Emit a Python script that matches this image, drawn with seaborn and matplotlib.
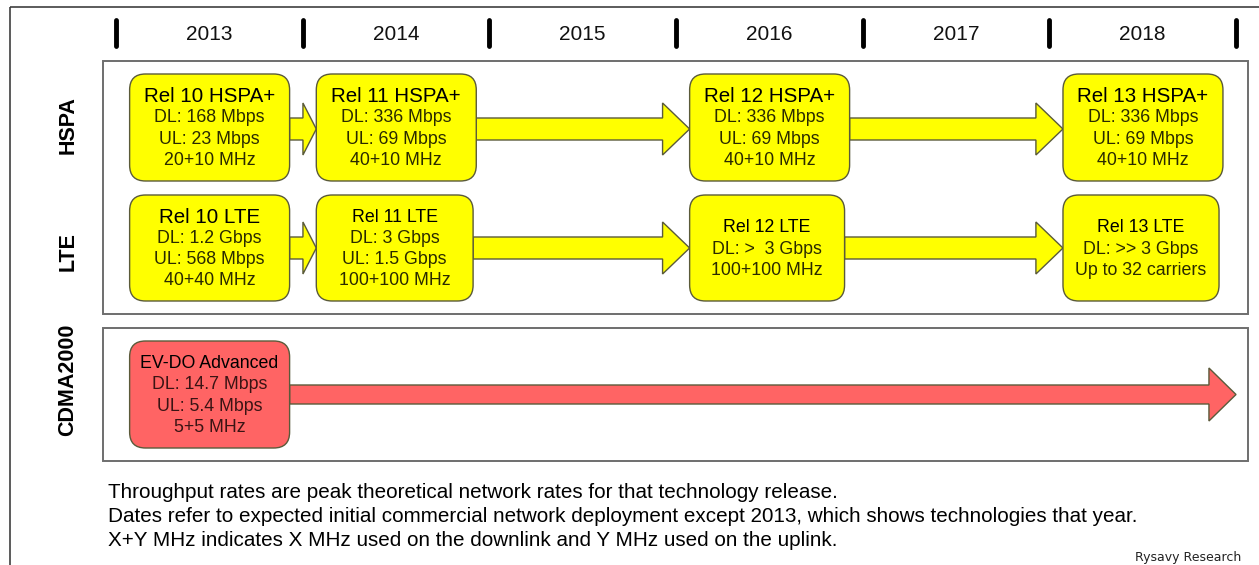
import matplotlib
matplotlib.use("Agg")
import matplotlib.pyplot as plt
import seaborn as sns
from matplotlib.patches import FancyBboxPatch, Rectangle

# --- DATA ---
years = [2013, 2014, 2015, 2016, 2017, 2018]
rows = ["HSPA", "LTE", "CDMA2000"]

hspa_years = [2013, 2014, 2016, 2018]
hspa_titles = ["Rel 10 HSPA+", "Rel 11 HSPA+", "Rel 12 HSPA+", "Rel 13 HSPA+"]
hspa_dl = ["DL: 168 Mbps", "DL: 336 Mbps", "DL: 336 Mbps", "DL: 336 Mbps"]
hspa_ul = ["UL: 23 Mbps", "UL: 69 Mbps", "UL: 69 Mbps", "UL: 69 Mbps"]
hspa_bw = ["20+10 MHz", "40+10 MHz", "40+10 MHz", "40+10 MHz"]

lte_years = [2013, 2014, 2016, 2018]
lte_titles = ["Rel 10 LTE", "Rel 11 LTE", "Rel 12 LTE", "Rel 13 LTE"]
lte_lines = [
    ["DL: 1.2 Gbps", "UL: 568 Mbps", "40+40 MHz"],
    ["DL: 3 Gbps", "UL: 1.5 Gbps", "100+100 MHz"],
    ["DL: >  3 Gbps", "100+100 MHz"],
    ["DL: >> 3 Gbps", "Up to 32 carriers"],
]

cdma_years = [2013]
cdma_titles = ["EV-DO Advanced"]
cdma_lines = [["DL: 14.7 Mbps", "UL: 5.4 Mbps", "5+5 MHz"]]
cdma_arrow_end = 2019

notes = [
    "Throughput rates are peak theoretical network rates for that technology release.",
    "Dates refer to expected initial commercial network deployment except 2013, which shows technologies that year.",
    "X+Y MHz indicates X MHz used on the downlink and Y MHz used on the uplink.",
]
source = "Rysavy Research"

# --- STYLE ---
sns.set_theme(style="white")
plt.rcParams["font.family"] = ["Liberation Sans", "DejaVu Sans"]

YELLOW = "#FFFF00"
RED = "#FF6464"
EDGE = "#5a5a3a"
px_per_year = 186.67

fig = plt.figure(figsize=(12.59, 5.65), dpi=100)
ax = fig.add_axes([0, 0, 1, 1])
x_left = years[0] - 116 / px_per_year
ax.set_xlim(x_left, x_left + 1259 / px_per_year)
ax.set_ylim(565, 0)
ax.axis("off")

# outer frame
ax.add_patch(Rectangle((x_left + 10 / px_per_year, 7), 1300 / px_per_year, 600,
                       fill=False, edgecolor="#404040", linewidth=1.2))

# year scale
for y in years + [years[-1] + 1]:
    ax.plot([y, y], [20, 46], color="black", linewidth=3.5, solid_capstyle="round")
for y in years:
    ax.text(y + 0.5, 34, str(y), ha="center", va="center", fontsize=15, color="#111111")

# panels
panel_x0 = x_left + 103 / px_per_year
panel_w = (1248 - 103) / px_per_year
ax.add_patch(Rectangle((panel_x0, 61), panel_w, 253, fill=False, edgecolor="#6e6e6e", linewidth=1.4))
ax.add_patch(Rectangle((panel_x0, 328), panel_w, 133, fill=False, edgecolor="#6e6e6e", linewidth=1.4))

row_y = {"HSPA": 127.5, "LTE": 248, "CDMA2000": 394.5}
label_y = {"HSPA": 125, "LTE": 252, "CDMA2000": 380}
for r in rows:
    ax.text(x_left + 68 / px_per_year, label_y[r], r, rotation=90, ha="center", va="center",
            fontsize=15.5, fontweight="bold", color="black")


def box(year, yc, height, width, color):
    ax.add_patch(FancyBboxPatch((year + 0.073, yc - height / 2), width, height,
                                boxstyle="round,pad=0,rounding_size=0.085",
                                mutation_aspect=px_per_year, facecolor=color,
                                edgecolor=EDGE, linewidth=1.0, zorder=3))


def lines(year, width, yc, title, body, title_size, body_color):
    all_lines = [title] + body
    n = len(all_lines)
    for i, t in enumerate(all_lines):
        yy = yc + (i - (n - 1) / 2) * 21.3
        if i == 0:
            ax.text(year + 0.073 + width / 2, yy + 1, t, ha="center", va="center",
                    fontsize=title_size, color="black", zorder=4)
        else:
            ax.text(year + 0.073 + width / 2, yy + 1, t, ha="center", va="center",
                    fontsize=12.8, color=body_color, zorder=4)


def arrow(x0, x1, yc, shaft, head, color):
    length = x1 - x0
    head_len = min(0.145, length * 0.5)
    ax.arrow(x0, yc, length, 0, width=shaft, head_width=head, head_length=head_len,
             length_includes_head=True, facecolor=color, edgecolor=EDGE,
             linewidth=1.0, zorder=2)


# HSPA row
w_h = 0.857
for i, yr in enumerate(hspa_years):
    box(yr, row_y["HSPA"], 107, w_h, YELLOW)
    lines(yr, w_h, row_y["HSPA"], hspa_titles[i], [hspa_dl[i], hspa_ul[i], hspa_bw[i]],
          14.8, "#2a2a00")
    if i + 1 < len(hspa_years):
        arrow(yr + 0.073 + w_h, hspa_years[i + 1] + 0.073, row_y["HSPA"] + 1.5, 22, 52, YELLOW)

# LTE row
w_l = [0.857, 0.84, 0.83, 0.836]
for i, yr in enumerate(lte_years):
    box(yr, row_y["LTE"], 106, w_l[i], YELLOW)
    lines(yr, w_l[i], row_y["LTE"], lte_titles[i], lte_lines[i],
          14.8 if i == 0 else 12.8, "#2a2a00")
    if i + 1 < len(lte_years):
        arrow(yr + 0.073 + w_l[i], lte_years[i + 1] + 0.073, row_y["LTE"], 22, 52, YELLOW)

# CDMA row
for i, yr in enumerate(cdma_years):
    box(yr, row_y["CDMA2000"], 107, w_h, RED)
    lines(yr, w_h, row_y["CDMA2000"], cdma_titles[i], cdma_lines[i], 12.8, "#3a1414")
    arrow(yr + 0.073 + w_h, cdma_arrow_end, row_y["CDMA2000"], 19, 53, RED)

# notes
for i, t in enumerate(notes):
    ax.text(x_left + 108 / px_per_year, 492 + i * 24, t, ha="left", va="center",
            fontsize=14.9, color="black")
ax.text(x_left + 1241 / px_per_year, 558, source, ha="right", va="center",
        fontsize=9, color="#222222", family="DejaVu Sans")

plt.savefig("out.png", dpi=100)
